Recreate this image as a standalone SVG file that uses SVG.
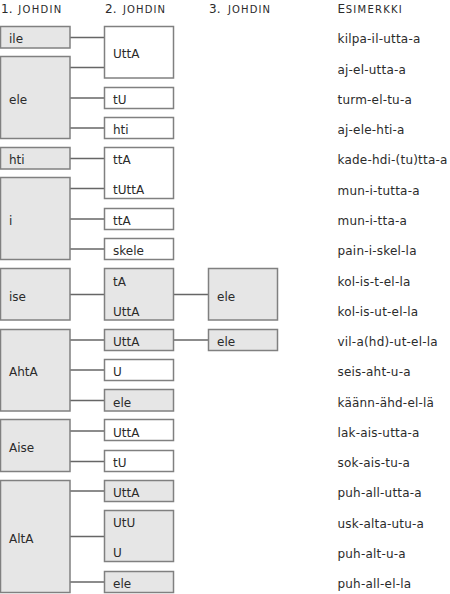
<svg xmlns="http://www.w3.org/2000/svg" width="450" height="594" viewBox="0 0 450 594">
<style>
text{font-family:"DejaVu Sans","Verdana",sans-serif;font-size:12px;fill:#2b2b2b}
.h{font-size:12px}
.sc{font-size:10px}
.g,.w{stroke:#808080;stroke-width:1.5}
.g{fill:#e6e6e6}
.w{fill:#ffffff}
#connectors line{stroke:#666;stroke-width:1.3}
#examples text{letter-spacing:0.2px}
</style>
<g id="headers">
<text class="h" x="1" y="12.5">1.</text><text class="sc" x="18.3" y="12.5" textLength="43" lengthAdjust="spacing">JOHDIN</text>
<text class="h" x="105" y="12.5">2.</text><text class="sc" x="123" y="12.5" textLength="42" lengthAdjust="spacing">JOHDIN</text>
<text class="h" x="209" y="12.5">3.</text><text class="sc" x="228" y="12.5" textLength="42" lengthAdjust="spacing">JOHDIN</text>
<text class="h" x="337.5" y="12.5">E</text><text class="sc" x="345.7" y="12.5" textLength="56" lengthAdjust="spacing">SIMERKKI</text>
</g>
<g id="connectors">
<line x1="70" y1="37.5" x2="104.5" y2="37.5"/>
<line x1="70" y1="67.5" x2="104.5" y2="67.5"/>
<line x1="70" y1="98" x2="104.5" y2="98"/>
<line x1="70" y1="128" x2="104.5" y2="128"/>
<line x1="70" y1="158.5" x2="104.5" y2="158.5"/>
<line x1="70" y1="188.5" x2="104.5" y2="188.5"/>
<line x1="70" y1="219" x2="104.5" y2="219"/>
<line x1="70" y1="249" x2="104.5" y2="249"/>
<line x1="70" y1="294.5" x2="104.5" y2="294.5"/>
<line x1="173.5" y1="294.5" x2="208.5" y2="294.5"/>
<line x1="70" y1="340" x2="104.5" y2="340"/>
<line x1="173.5" y1="340" x2="208.5" y2="340"/>
<line x1="70" y1="370" x2="104.5" y2="370"/>
<line x1="70" y1="400.5" x2="104.5" y2="400.5"/>
<line x1="70" y1="431" x2="104.5" y2="431"/>
<line x1="70" y1="461.5" x2="104.5" y2="461.5"/>
<line x1="70" y1="491" x2="104.5" y2="491"/>
<line x1="70" y1="536.5" x2="104.5" y2="536.5"/>
<line x1="70" y1="582" x2="104.5" y2="582"/>
</g>
<g id="n1-ile"><rect class="g" x="0.5" y="26.5" width="69.5" height="21.5"/><text x="9" y="43">ile</text></g>
<g id="n1-ele"><rect class="g" x="0.5" y="56.5" width="69.5" height="82"/><text x="9" y="103.5">ele</text></g>
<g id="n1-hti"><rect class="g" x="0.5" y="147.5" width="69.5" height="21.5"/><text x="9" y="164">hti</text></g>
<g id="n1-i"><rect class="g" x="0.5" y="177.5" width="69.5" height="82"/><text x="9" y="224.5">i</text></g>
<g id="n1-ise"><rect class="g" x="0.5" y="268.5" width="69.5" height="51.5"/><text x="9" y="300.5">ise</text></g>
<g id="n1-AhtA"><rect class="g" x="0.5" y="329.5" width="69.5" height="81.5"/><text x="9" y="376">AhtA</text></g>
<g id="n1-Aise"><rect class="g" x="0.5" y="419.5" width="69.5" height="52"/><text x="9" y="451.5">Aise</text></g>
<g id="n1-AltA"><rect class="g" x="0.5" y="480.5" width="69.5" height="112"/><text x="9" y="542.5">AltA</text></g>

<g id="n2-UttA-1"><rect class="w" x="104.5" y="26.5" width="69" height="51.5"/><text x="113" y="58">UttA</text></g>
<g id="n2-tU-1"><rect class="w" x="104.5" y="87.5" width="69" height="21"/><text x="113" y="104">tU</text></g>
<g id="n2-hti"><rect class="w" x="104.5" y="117.5" width="69" height="21"/><text x="113" y="134">hti</text></g>
<g id="n2-ttA-tUttA"><rect class="w" x="104.5" y="147.5" width="69" height="51"/><text x="113" y="164">ttA</text><text x="113" y="194">tUttA</text></g>
<g id="n2-ttA"><rect class="w" x="104.5" y="208.5" width="69" height="21"/><text x="113" y="225">ttA</text></g>
<g id="n2-skele"><rect class="w" x="104.5" y="238.5" width="69" height="21"/><text x="113" y="255">skele</text></g>
<g id="n2-tA-UttA"><rect class="g" x="104.5" y="268.5" width="69" height="51.5"/><text x="113" y="285.5">tA</text><text x="113" y="315.5">UttA</text></g>
<g id="n2-UttA-2"><rect class="g" x="104.5" y="329.5" width="69" height="21"/><text x="113" y="346">UttA</text></g>
<g id="n2-U"><rect class="w" x="104.5" y="359.5" width="69" height="21"/><text x="113" y="376">U</text></g>
<g id="n2-ele-1"><rect class="g" x="104.5" y="389.5" width="69" height="21.5"/><text x="113" y="406.5">ele</text></g>
<g id="n2-UttA-3"><rect class="w" x="104.5" y="419.5" width="69" height="21"/><text x="113" y="436.5">UttA</text></g>
<g id="n2-tU-2"><rect class="w" x="104.5" y="450.5" width="69" height="21"/><text x="113" y="467">tU</text></g>
<g id="n2-UttA-4"><rect class="g" x="104.5" y="480.5" width="69" height="21"/><text x="113" y="497">UttA</text></g>
<g id="n2-UtU-U"><rect class="g" x="104.5" y="510.5" width="69" height="51"/><text x="113" y="527">UtU</text><text x="113" y="557">U</text></g>
<g id="n2-ele-2"><rect class="g" x="104.5" y="571.5" width="69" height="21"/><text x="113" y="588">ele</text></g>

<g id="n3-ele-1"><rect class="g" x="208.5" y="268.5" width="69" height="51.5"/><text x="217" y="300.5">ele</text></g>
<g id="n3-ele-2"><rect class="g" x="208.5" y="329.5" width="69" height="21"/><text x="217" y="346">ele</text></g>

<g id="examples">
<text x="337.5" y="43">kilpa-il-utta-a</text>
<text x="337.5" y="73.5">aj-el-utta-a</text>
<text x="337.5" y="104">turm-el-tu-a</text>
<text x="337.5" y="134">aj-ele-hti-a</text>
<text x="337.5" y="164">kade-hdi-(tu)tta-a</text>
<text x="337.5" y="194.5">mun-i-tutta-a</text>
<text x="337.5" y="225">mun-i-tta-a</text>
<text x="337.5" y="255">pain-i-skel-la</text>
<text x="337.5" y="285.5">kol-is-t-el-la</text>
<text x="337.5" y="315.5">kol-is-ut-el-la</text>
<text x="337.5" y="346">vil-a(hd)-ut-el-la</text>
<text x="337.5" y="376">seis-aht-u-a</text>
<text x="337.5" y="406.5">käänn-ähd-el-lä</text>
<text x="337.5" y="436.5">lak-ais-utta-a</text>
<text x="337.5" y="467">sok-ais-tu-a</text>
<text x="337.5" y="497">puh-all-utta-a</text>
<text x="337.5" y="527.5">usk-alta-utu-a</text>
<text x="337.5" y="557.5">puh-alt-u-a</text>
<text x="337.5" y="588">puh-all-el-la</text>
</g>
</svg>
